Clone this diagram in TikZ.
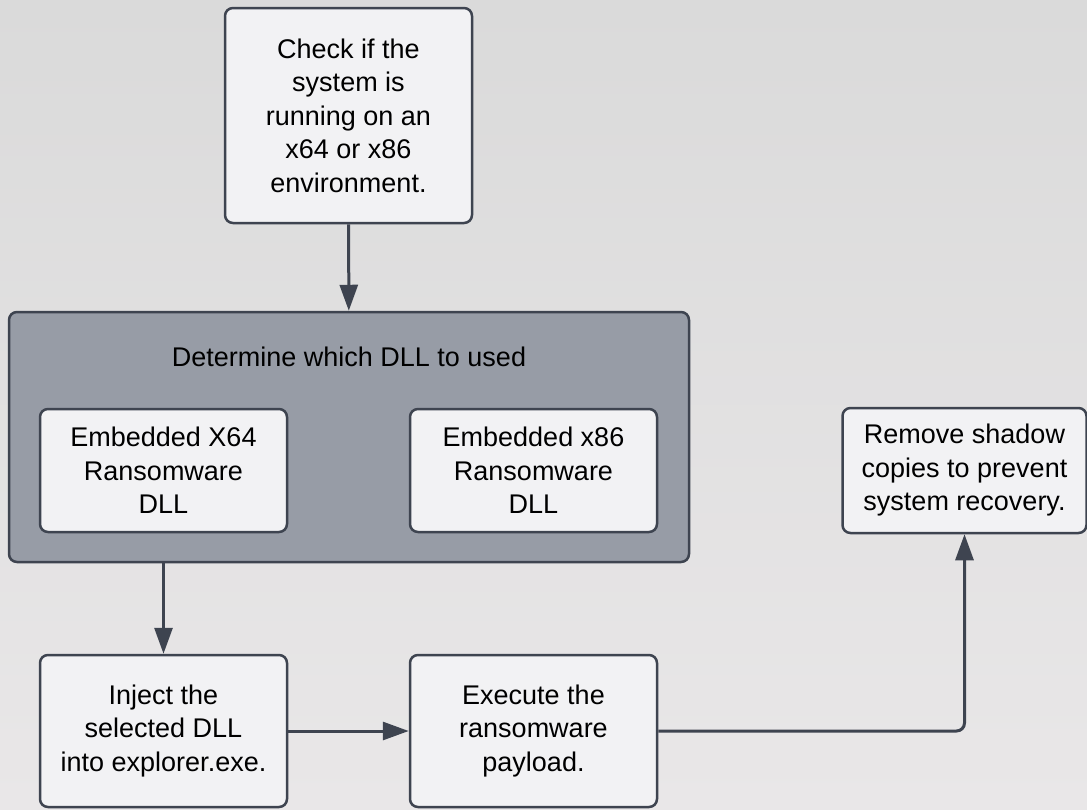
\documentclass[tikz,border=0pt]{standalone}
\usepackage{fontspec}
\setmainfont{Liberation Sans}
\usetikzlibrary{arrows.meta,positioning}
\definecolor{edgegray}{HTML}{3E4450}
\definecolor{boxfill}{HTML}{F2F2F4}
\definecolor{groupfill}{HTML}{979CA6}
\definecolor{bgtop}{HTML}{DADADA}
\definecolor{bgbottom}{HTML}{E9E7E8}
\begin{document}
\begin{tikzpicture}[x=1pt, y=-1pt,
    box/.style = {draw=edgegray, line width=2.5pt, rounded corners=8pt, fill=boxfill,
      align=center, font=\fontsize{27}{33.5}\selectfont, minimum width=247pt},
    group/.style = {draw=edgegray, line width=2.5pt, rounded corners=8pt, fill=groupfill,
      minimum width=680pt, minimum height=250pt},
    flow/.style = {draw=edgegray, line width=3pt, -{Triangle[length=26pt,width=18pt]}}]
  \shade[top color=bgtop, bottom color=bgbottom] (0,0) rectangle (1087,809);
  \useasboundingbox (0,0) rectangle (1087,809);
  %
  \node[box, minimum height=215pt] (check) at (348.5,115.5)
    {Check if the\\system is\\running on an\\x64 or x86\\environment.};
  \node[group] (dll) at (349,437) {};
  \node[font=\fontsize{27}{33.5}\selectfont] (dlltitle) at (349,357) {Determine which DLL to used};
  \node[box, minimum height=123pt] (x64) at (163.5,470.5) {Embedded X64\\Ransomware\\DLL};
  \node[box, minimum height=123pt] (x86) at (533.5,470.5) {Embedded x86\\Ransomware\\DLL};
  \node[box, minimum height=152pt] (inject) at (163.5,731) {Inject the\\selected DLL\\into explorer.exe.};
  \node[box, minimum height=152pt] (execute) at (533.5,731) {Execute the\\ransomware\\payload.};
  \node[box, minimum width=244pt, minimum height=125pt] (shadow) at (964.5,470.5)
    {Remove shadow\\copies to prevent\\system recovery.};
  %
  \draw[flow] (check) -- (dll);
  \draw[flow] (inject.north |- dll.south) -- (inject);
  \draw[flow] (inject) -- (execute);
  \draw[flow, rounded corners=8pt] (execute.east) -| (shadow.south);
\end{tikzpicture}
\end{document}
